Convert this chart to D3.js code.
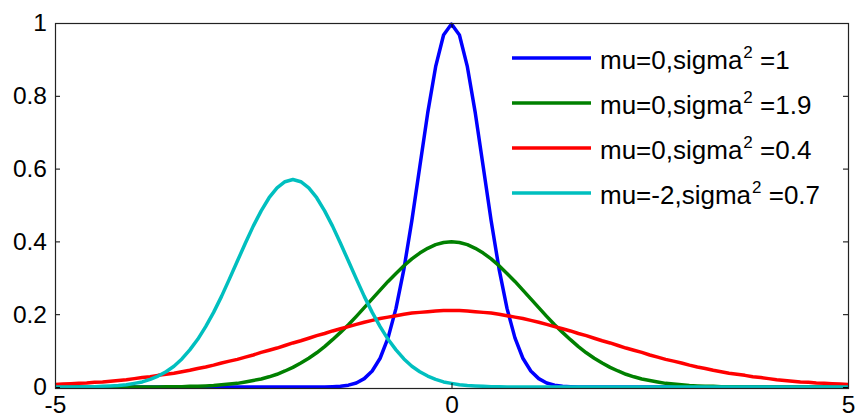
<!DOCTYPE html>
<html>
<head>
<meta charset="utf-8">
<script src="https://cdn.jsdelivr.net/npm/d3@7/dist/d3.min.js"></script>
<style>
  html, body { margin: 0; padding: 0; background: #fff; }
  svg { display: block; font-family: "Liberation Sans", Arial, sans-serif; }
</style>
</head>
<body>
<svg id="chart" width="859" height="419"></svg>
<script>
// Sample positions along the x axis
const xValues = [
  -5.0, -4.9, -4.8, -4.7, -4.6, -4.5, -4.4, -4.3, -4.2, -4.1,
  -4.0, -3.9, -3.8, -3.7, -3.6, -3.5, -3.4, -3.3, -3.2, -3.1,
  -3.0, -2.9, -2.8, -2.7, -2.6, -2.5, -2.4, -2.3, -2.2, -2.1,
  -2.0, -1.9, -1.8, -1.7, -1.6, -1.5, -1.4, -1.3, -1.2, -1.1,
  -1.0, -0.9, -0.8, -0.7, -0.6, -0.5, -0.4, -0.3, -0.2, -0.1,
   0.0,  0.1,  0.2,  0.3,  0.4,  0.5,  0.6,  0.7,  0.8,  0.9,
   1.0,  1.1,  1.2,  1.3,  1.4,  1.5,  1.6,  1.7,  1.8,  1.9,
   2.0,  2.1,  2.2,  2.3,  2.4,  2.5,  2.6,  2.7,  2.8,  2.9,
   3.0,  3.1,  3.2,  3.3,  3.4,  3.5,  3.6,  3.7,  3.8,  3.9,
   4.0,  4.1,  4.2,  4.3,  4.4,  4.5,  4.6,  4.7,  4.8,  4.9,
   5.0
];

// Density values for each curve, one per x sample
const blueValues = [
  0, 0, 0, 0, 0, 0, 0, 0, 0, 0,
  0, 0, 0, 0, 0, 0, 0, 0, 0, 0,
  0, 0, 0, 0, 0, 0, 0, 0, 0, 0,
  0, 0, 0, 0, 0, 0.001, 0.002, 0.005, 0.011, 0.023,
  0.044, 0.079, 0.135, 0.216, 0.324, 0.457, 0.605, 0.753, 0.880, 0.967,
  0.997, 0.967, 0.880, 0.753, 0.605, 0.457, 0.324, 0.216, 0.135, 0.079,
  0.044, 0.023, 0.011, 0.005, 0.002, 0.001, 0, 0, 0, 0,
  0, 0, 0, 0, 0, 0, 0, 0, 0, 0,
  0, 0, 0, 0, 0, 0, 0, 0, 0, 0,
  0, 0, 0, 0, 0, 0, 0, 0, 0, 0,
  0
];

const greenValues = [
  0, 0, 0, 0, 0, 0, 0, 0, 0, 0,
  0, 0, 0, 0, 0.001, 0.001, 0.001, 0.002, 0.002, 0.003,
  0.004, 0.006, 0.008, 0.010, 0.014, 0.018, 0.022, 0.028, 0.035, 0.044,
  0.054, 0.066, 0.079, 0.094, 0.111, 0.130, 0.150, 0.171, 0.194, 0.218,
  0.242, 0.266, 0.290, 0.312, 0.333, 0.352, 0.368, 0.381, 0.391, 0.397,
  0.399, 0.397, 0.391, 0.381, 0.368, 0.352, 0.333, 0.312, 0.290, 0.266,
  0.242, 0.218, 0.194, 0.171, 0.150, 0.130, 0.111, 0.094, 0.079, 0.066,
  0.054, 0.044, 0.035, 0.028, 0.022, 0.018, 0.014, 0.010, 0.008, 0.006,
  0.004, 0.003, 0.002, 0.002, 0.001, 0.001, 0.001, 0, 0, 0,
  0, 0, 0, 0, 0, 0, 0, 0, 0, 0,
  0
];

const redValues = [
  0.007, 0.008, 0.009, 0.010, 0.011, 0.013, 0.014, 0.016, 0.018, 0.020,
  0.023, 0.026, 0.028, 0.032, 0.035, 0.038, 0.042, 0.046, 0.051, 0.055,
  0.060, 0.066, 0.071, 0.076, 0.082, 0.088, 0.095, 0.101, 0.107, 0.114,
  0.121, 0.127, 0.134, 0.141, 0.147, 0.154, 0.160, 0.166, 0.172, 0.178,
  0.183, 0.188, 0.192, 0.196, 0.200, 0.203, 0.205, 0.207, 0.209, 0.210,
  0.210, 0.210, 0.209, 0.207, 0.205, 0.203, 0.200, 0.196, 0.192, 0.188,
  0.183, 0.178, 0.172, 0.166, 0.160, 0.154, 0.147, 0.141, 0.134, 0.127,
  0.121, 0.114, 0.107, 0.101, 0.095, 0.088, 0.082, 0.076, 0.071, 0.066,
  0.060, 0.055, 0.051, 0.046, 0.042, 0.038, 0.035, 0.032, 0.028, 0.026,
  0.023, 0.020, 0.018, 0.016, 0.014, 0.013, 0.011, 0.010, 0.009, 0.008,
  0.007
];

const cyanValues = [
  0, 0, 0, 0, 0.001, 0.001, 0.002, 0.003, 0.004, 0.006,
  0.010, 0.014, 0.021, 0.030, 0.042, 0.057, 0.077, 0.102, 0.131, 0.166,
  0.205, 0.249, 0.297, 0.346, 0.395, 0.442, 0.484, 0.520, 0.547, 0.564,
  0.570, 0.564, 0.547, 0.520, 0.484, 0.442, 0.395, 0.346, 0.297, 0.249,
  0.205, 0.166, 0.131, 0.102, 0.077, 0.057, 0.042, 0.030, 0.021, 0.014,
  0.010, 0.006, 0.004, 0.003, 0.002, 0.001, 0.001, 0, 0, 0,
  0, 0, 0, 0, 0, 0, 0, 0, 0, 0,
  0, 0, 0, 0, 0, 0, 0, 0, 0, 0,
  0, 0, 0, 0, 0, 0, 0, 0, 0, 0,
  0, 0, 0, 0, 0, 0, 0, 0, 0, 0,
  0
];

// Legend entries: prefix, superscript, suffix
const seriesLabels = [
  ["mu=0,sigma", "2", " =1"],
  ["mu=0,sigma", "2", " =1.9"],
  ["mu=0,sigma", "2", " =0.4"],
  ["mu=-2,sigma", "2", " =0.7"]
];
const seriesColors = ["#0000ff", "#008000", "#ff0000", "#00bfbf"];

const xTicks = [-5, 0, 5];
const yTicks = [0, 0.2, 0.4, 0.6, 0.8, 1];

const seriesValues = [blueValues, greenValues, redValues, cyanValues];

const svg = d3.select("#chart");
const plotLeft = 55, plotRight = 848, plotTop = 23, plotBottom = 387;

const x = d3.scaleLinear().domain([-5, 5]).range([plotLeft, plotRight]);
const y = d3.scaleLinear().domain([0, 1]).range([plotBottom, plotTop]);

// Curves, drawn in legend order so later ones sit on top
const line = d3.line()
  .x(d => x(d[0]))
  .y(d => y(d[1]))
  .curve(d3.curveLinear);

svg.append("g")
  .selectAll("path")
  .data(seriesValues)
  .join("path")
  .attr("d", vals => line(xValues.map((xv, i) => [xv, vals[i]])))
  .attr("fill", "none")
  .attr("stroke", (d, i) => seriesColors[i])
  .attr("stroke-width", 3.5)
  .attr("stroke-linejoin", "round");

// Axes with inward ticks on all four sides
const fontSize = 24.5;
const plainNumber = d => String(+(+d).toFixed(1));
const styleAxis = g => {
  g.select(".domain").remove();
  g.selectAll(".tick line").attr("stroke", "#000").attr("stroke-width", 1);
  g.selectAll(".tick text")
    .attr("fill", "#000")
    .attr("font-size", fontSize)
    .attr("font-family", "Liberation Sans, Arial, sans-serif");
};

svg.append("g")
  .attr("transform", `translate(0,${plotBottom + 1})`)
  .call(d3.axisBottom(x).tickValues(xTicks).tickSizeInner(-5).tickSizeOuter(0).tickPadding(8).tickFormat(plainNumber))
  .call(styleAxis);

svg.append("g")
  .attr("transform", `translate(0,${plotTop})`)
  .call(d3.axisTop(x).tickValues(xTicks).tickSizeInner(-5).tickSizeOuter(0).tickFormat(""))
  .call(styleAxis);

svg.append("g")
  .attr("transform", `translate(${plotLeft},0)`)
  .call(d3.axisLeft(y).tickValues(yTicks).tickSizeInner(-5).tickSizeOuter(0).tickPadding(8).tickFormat(plainNumber))
  .call(styleAxis);

svg.append("g")
  .attr("transform", `translate(${plotRight},0)`)
  .call(d3.axisRight(y).tickValues(yTicks).tickSizeInner(-5).tickSizeOuter(0).tickFormat(""))
  .call(styleAxis);

// Axes box
svg.append("rect")
  .attr("x", plotLeft + 0.5)
  .attr("y", plotTop + 0.5)
  .attr("width", plotRight - plotLeft)
  .attr("height", plotBottom + 1 - plotTop)
  .attr("fill", "none")
  .attr("stroke", "#222")
  .attr("stroke-width", 1.2);

// Legend (no frame)
const legendX = 512, legendY0 = 58, legendStep = 45;
const legendFont = 26;
const legend = svg.append("g");
seriesLabels.forEach((lab, i) => {
  const ly = legendY0 + i * legendStep;
  legend.append("line")
    .attr("x1", legendX).attr("x2", legendX + 79)
    .attr("y1", ly).attr("y2", ly)
    .attr("stroke", seriesColors[i])
    .attr("stroke-width", 3.5);
  const t = legend.append("text")
    .attr("x", legendX + 88)
    .attr("y", ly + 11)
    .attr("font-size", legendFont)
    .attr("fill", "#000");
  t.append("tspan").text(lab[0]);
  t.append("tspan").attr("dy", -11).attr("dx", 1).attr("font-size", 17).text(lab[1]);
  t.append("tspan").attr("dy", 11).attr("font-size", legendFont).text(lab[2]);
});
</script>
</body>
</html>
